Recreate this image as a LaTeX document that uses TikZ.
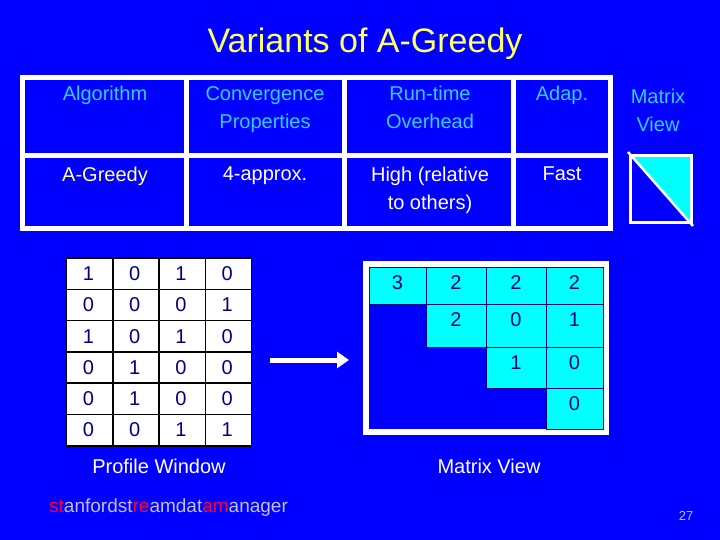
\documentclass[tikz,border=0pt]{standalone}
\usepackage{fontspec}
\usetikzlibrary{arrows.meta}
\setmainfont{Liberation Sans}
\definecolor{bg}{HTML}{0000FF}
\definecolor{hd}{HTML}{33CCFF}
\definecolor{ttl}{HTML}{FFFF66}
\definecolor{ag}{HTML}{FFFF99}
\definecolor{cy}{HTML}{00FFFF}
\definecolor{dk}{HTML}{000080}
\definecolor{rd}{HTML}{FF0033}
\definecolor{gr}{HTML}{C0C0D8}
\begin{document}
\begin{tikzpicture}[x=1pt,y=-1pt,
  hdr/.style={text=hd,font=\fontsize{20}{28}\selectfont,align=center,anchor=north,inner sep=0pt},
  val/.style={text=white,font=\fontsize{20}{28}\selectfont,align=center,anchor=north,inner sep=0pt},
  cellw/.style={draw=black,line width=1.5pt,fill=white},
  num/.style={text=dk,font=\fontsize{20}{24}\selectfont},
  cyc/.style={fill=cy,draw=dk,line width=1pt}]
\useasboundingbox (0,0) rectangle (720,540);
\fill[bg] (0,0) rectangle (720,540);
\node[text=ttl,font=\fontsize{34}{40}\selectfont] (title) at (365,44) {Variants of A-Greedy};
% top table
\fill[white] (20,75) rectangle (613,231);
\foreach \a/\b in {25/184,189/342,347/511,516/608}{
  \fill[bg] (\a,80) rectangle (\b,153);
  \fill[bg] (\a,158) rectangle (\b,226);}
\node[hdr] (h1) at (105,86) {Algorithm};
\node[hdr] (h2) at (265,86) {Convergence\\Properties};
\node[hdr] (h3) at (430,86) {Run-time\\Overhead};
\node[hdr] (h4) at (562,86) {Adap.};
\node[hdr] (h5) at (658,89) {Matrix\\View};
\node[val,text=ag] (v1) at (105,167) {A-Greedy};
\node[val] (v2) at (265,167) {4-approx.};
\node[val] (v3) at (430,167) {High (relative\\to others)};
\node[val] (v4) at (562,167) {Fast};
% icon
\fill[cy] (630,156) -- (691,156) -- (691,223) -- cycle;
\draw[white,line width=3pt] (630,156) rectangle (691,223);
\draw[white,line width=2.5pt] (628,152) -- (693,226);
% profile window
\foreach \r [count=\i from 0] in {{1,0,1,0},{0,0,0,1},{1,0,1,0},{0,1,0,0},{0,1,0,0},{0,0,1,1}}{
  \foreach \v [count=\j from 0] in \r {
    \draw[cellw] (66.5+46.25*\j,258+31.3*\i) rectangle ++(46.25,31.3);
    \node[num] (p\i\j) at (66.5+46.25*\j+22,258+31.3*\i+15.6) {\v};}}
\node[text=white,font=\fontsize{20}{24}\selectfont] (pw) at (159,466) {Profile Window};
% arrow
\coordinate (a1) at (270,360);
\coordinate (a2) at (349,360);
\draw[white,line width=5pt,-{Triangle[length=12pt,width=16pt]}] (a1) -- (a2);
% matrix view
\fill[white] (363,261) rectangle (609,435);
\fill[bg] (369,267) rectangle (603,429);
\def\xs{{369,426,486,546,603}}
\def\ys{{267,304,347,388,429}}
\foreach \i/\j/\v in {0/0/3,0/1/2,0/2/2,0/3/2,1/1/2,1/2/0,1/3/1,2/2/1,2/3/0,3/3/0}{
  \pgfmathsetmacro\xa{\xs[\j]}\pgfmathsetmacro\xb{\xs[\j+1]}
  \pgfmathsetmacro\ya{\ys[\i]}\pgfmathsetmacro\yb{\ys[\i+1]}
  \draw[cyc] (\xa,\ya) rectangle (\xb,\yb);
  \node[num] (m\i\j) at ({(\xa+\xb)/2},\ya+16) {\v};}
\node[text=white,font=\fontsize{20}{24}\selectfont] (mv) at (489,466) {Matrix View};
\node[font=\fontsize{19}{22}\selectfont,anchor=west,inner sep=0pt] (sdm) at (49,508) {\textcolor{rd}{st}\textcolor{gr}{anfordst}\textcolor{rd}{re}\textcolor{gr}{amdat}\textcolor{rd}{am}\textcolor{gr}{anager}};
\node[text=gr,font=\fontsize{13}{15}\selectfont] (pg) at (686,516) {27};
\end{tikzpicture}
\end{document}
